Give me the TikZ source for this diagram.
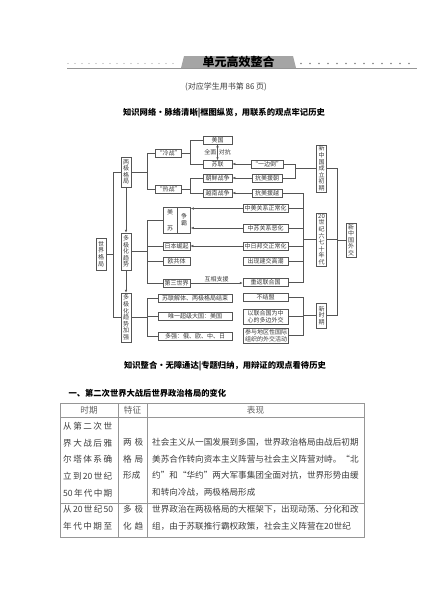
\documentclass[tikz,border=0pt]{standalone}
\usepackage{fontspec}
\setmainfont{Noto Sans CJK SC}
\usetikzlibrary{arrows.meta, positioning, calc}
\definecolor{framegray}{RGB}{85,85,85}
\definecolor{textgray}{RGB}{60,60,60}
\definecolor{bandgray}{RGB}{165,165,165}
\definecolor{rulegray}{RGB}{150,150,150}
\newcommand{\spreadto}[2]{\makebox[#1][s]{#2}}
\tikzset{
  block/.style={rectangle, draw=framegray, line width=0.5pt, fill=white,
                text=textgray, font=\fontsize{6}{7}\selectfont, inner sep=1pt,
                minimum height=8pt, align=center},
  vblock/.style={block, font=\fontsize{6}{6.6}\selectfont, text width=7pt,
                 inner xsep=1.5pt},
  sblock/.style={block, minimum width=29pt},
  wblock/.style={block, minimum width=45pt},
  link/.style={draw=framegray, line width=0.5pt},
  arrow/.style={link, -{Latex[length=3pt, width=2.4pt]}},
  twoway/.style={link, {Latex[length=3pt, width=2.4pt]}-{Latex[length=3pt, width=2.4pt]}},
  tag/.style={font=\fontsize{6}{7}\selectfont, text=textgray, inner sep=1pt},
  heading/.style={font=\fontsize{8.3}{10}\selectfont\bfseries, text=black},
  cell/.style={font=\fontsize{8.6}{16.75}\selectfont, text=textgray, inner sep=0pt,
               anchor=north west, align=left},
  headcell/.style={font=\fontsize{8.6}{10}\selectfont, text=textgray!80, inner sep=0pt},
}

\begin{document}
\begin{tikzpicture}[x=1pt, y=-1pt]
  \useasboundingbox (0,0) rectangle (424,600);

  \fill[bandgray] (181,68) -- (184,56) -- (293,56) -- (296,68) -- cycle;
  \node[font=\fontsize{12}{14}\selectfont\bfseries] (unit) at (238.5,62) {单元高效整合};
  \draw[rulegray, line width=1pt] (67,68.5) -- (417,68.5);
  \draw[gray!70, line width=1.3pt, line cap=round, dash pattern=on 0pt off 7pt] (68,63.5) -- (178,63.5);
  \draw[gray, line width=1.6pt, line cap=round, dash pattern=on 0pt off 9pt] (301,63.5) -- (417,63.5);
  \node[font=\fontsize{8}{10}\selectfont, text=textgray] (pageref) at (226,87) {(对应学生用书第 86 页)};
  \node[heading] (nettitle) at (224,113) {知识网络·脉络清晰|框图纵览，用联系的观点牢记历史};

  \node[vblock, minimum height=32pt] (world) at (101,254) {世\\界\\格\\局};
  \node[vblock, minimum height=30pt] (bipolar) at (126,172) {两\\极\\格\\局};
  \node[vblock, minimum height=37pt] (multi) at (126,251.5) {多\\极\\化\\趋\\势};
  \node[vblock, minimum height=49pt] (multiplus) at (126,317.5) {多\\极\\化\\趋\\势\\加\\强};

  \node[block, minimum width=21pt] (cold) at (168.5,153) {“冷战”};
  \node[block, minimum width=21pt] (hot) at (168.5,189.5) {“热战”};
  \node[sblock] (usa) at (217.5,140) {美国};
  \node[sblock] (ussr) at (217.5,164.5) {苏联};
  \node[sblock] (korea) at (217.5,178) {朝鲜战争};
  \node[sblock] (vietnam) at (217.5,193) {越南战争};
  \node[sblock, minimum width=30pt] (lean) at (267,164) {“一边倒”};
  \node[sblock, minimum width=30pt] (aidkorea) at (267,178) {抗美援朝};
  \node[sblock, minimum width=30pt] (aidviet) at (267,193) {抗美援越};

  \node[block, minimum width=14pt, minimum height=26pt] (usbox) at (170,220) {美\\[9pt]苏};
  \node[block, minimum width=13pt, minimum height=26pt, right=0pt of usbox] (hegemony) {争\\霸};
  \node[block, minimum width=27pt] (japan) at (176.5,246) {日本崛起};
  \node[block, minimum width=27pt] (ec) at (176.5,261) {欧共体};
  \node[block, minimum width=27pt] (third) at (176.5,283) {第三世界};
  \node[wblock] (sinous) at (265.5,208.5) {中美关系正常化};
  \node[wblock] (sinosov) at (265.5,228) {中苏关系恶化};
  \node[wblock] (sinojp) at (265.5,246) {中日邦交正常化};
  \node[wblock] (wave) at (265.5,261) {出现建交高潮};
  \node[wblock] (un) at (265.5,282.5) {重返联合国};

  \node[block, minimum width=74pt] (soviet) at (195,298) {苏联解体、两极格局结束};
  \node[block, minimum width=74pt] (superpower) at (195,316) {唯一超级大国：美国};
  \node[block, minimum width=74pt] (powers) at (195,336) {多强：俄、欧、中、日};
  \node[wblock] (nonalign) at (265.5,297.5) {不结盟};
  \node[wblock] (multilat) at (265.5,316.5) {以联合国为中\\心的多边外交};
  \node[wblock] (regional) at (266,335.5) {参与地区性国际\\组织的外交活动};

  \node[vblock, minimum height=47pt] (early) at (321.5,168.5) {新\\中\\国\\成\\立\\初\\期};
  \node[vblock, minimum height=53pt] (sixties) at (321.5,239.5) {20\\世\\纪\\六\\七\\十\\年\\代};
  \node[vblock, minimum height=25pt] (newera) at (321.5,315.5) {新\\时\\期};
  \node[vblock, minimum height=31pt] (diplomacy) at (351,240) {新\\中\\国\\外\\交};

  \coordinate (lb) at (113,0);
  \coordinate (b1) at (147,0);
  \coordinate (b2) at (190,0);
  \coordinate (b3) at (295,0);
  \coordinate (b4) at (303,0);
  \coordinate (b5) at (337,0);

  \draw[link] (bipolar.west) -- (bipolar.west -| lb) |- (multiplus.west);
  \draw[link] (world.east) -- (world.east -| lb);
  \draw[arrow] (bipolar) -- (multi);
  \draw[arrow] (multi) -- (multiplus);

  \draw[link] (cold.west) -- (cold.west -| b1) |- (hot.west);
  \draw[link] (bipolar.east) -- (bipolar.east -| b1);
  \draw[link] (usa.west) -- (usa.west -| b2) |- (ussr.west);
  \draw[link] (cold.east) -- (cold.east -| b2);
  \draw[link] (korea.west) -- (korea.west -| b2) |- (vietnam.west);
  \draw[link] (hot.east) -- (hot.east -| b2);
  \draw[twoway] (usa) -- node[tag, left] {全面} node[tag, right] {对抗} (ussr);
  \draw[arrow] (lean.west) -- (lean.west -| ussr.east);
  \draw[arrow] (aidkorea.west) -- (aidkorea.west -| korea.east);
  \draw[arrow] (aidviet.west) -- (aidviet.west -| vietnam.east);
  \draw[link] (lean.east) -- (lean.east -| b3) |- (aidkorea.east);
  \draw[link] (early.west) -- (early.west -| b3);

  \draw[link] (usbox.west) -- (usbox.west -| b1) |- (third.west);
  \draw[link] (multi.east) -- (multi.east -| b1);
  \foreach \n in {japan, ec}
    \draw[link] (\n.west) -- (\n.west -| b1);
  \draw[arrow] (sinous.west) -- (sinous.west -| hegemony.east);
  \draw[arrow] (sinosov.west) -- (sinosov.west -| hegemony.east);
  \draw[arrow] (sinojp.west) -- (sinojp.west -| japan.east);
  \draw[arrow] (third.east) -- node[tag, above] {互相支援} (third.east -| un.west);
  \draw[link] (aidviet.east) -- (aidviet.east -| b4) |- (un.east);
  \foreach \n in {sinous, sinosov, sinojp, wave}
    \draw[link] (\n.east) -- (\n.east -| b4);
  \draw[link] (sixties.west) -- (sixties.west -| b4);

  \draw[link] (soviet.west) -- (soviet.west -| b1) |- (powers.west);
  \draw[link] (multiplus.east) -- (multiplus.east -| b1);
  \draw[link] (superpower.west) -- (superpower.west -| b1);
  \draw[link] (nonalign.east) -- (nonalign.east -| b4) |- (regional.east);
  \draw[link] (multilat.east) -- (multilat.east -| b4);
  \draw[link] (newera.west) -- (newera.west -| b4);

  \draw[link] (early.east) -- (early.east -| b5) |- (newera.east);
  \draw[link] (sixties.east) -- (sixties.east -| b5);
  \draw[link] (diplomacy.west) -- (diplomacy.west -| b5);

  \node[heading] (sumtitle) at (225,366) {知识整合·无障通达|专题归纳，用辩证的观点看待历史};
  \node[heading, anchor=west] (section) at (65,393) {一、第二次世界大战后世界政治格局的变化};

  \draw[rulegray, line width=1pt] (60,403) rectangle (364,537);
  \draw[rulegray, line width=0.6pt] (60,417) -- (364,417) (60,503) -- (364,503)
    (118,403) -- (118,537) (147,403) -- (147,537);
  \node[headcell] (hperiod) at (89,410) {时期};
  \node[headcell] (hfeature) at (132.5,410) {特征};
  \node[headcell] (hshow) at (255.5,410) {表现};

  \node[cell] (period1) at (63,422) {\spreadto{49pt}{从 第 二 次 世}\\\spreadto{49pt}{界 大 战 后 雅}\\
    \spreadto{49pt}{尔 塔 体 系 确}\\\spreadto{49pt}{立 到 20 世 纪}\\\spreadto{49pt}{50 年 代 中 期}};
  \node[cell] (feature1) at (123,438) {\spreadto{20pt}{两 极}\\\spreadto{20pt}{格 局}\\形成};
  \node[cell] (show1) at (152,438) {社会主义从一国发展到多国，世界政治格局由战后初期\\
    美苏合作转向资本主义阵营与社会主义阵营对峙。“北\\
    约”和“华约”两大军事集团全面对抗，世界形势由缓\\
    和转向冷战，两极格局形成};
  \node[cell] (period2) at (63,505) {\spreadto{49pt}{从 20 世 纪 50}\\\spreadto{49pt}{年 代 中 期 至}};
  \node[cell] (feature2) at (123,505) {\spreadto{20pt}{多 极}\\\spreadto{20pt}{化 趋}};
  \node[cell] (show2) at (152,505) {世界政治在两极格局的大框架下，出现动荡、分化和改\\
    组，由于苏联推行霸权政策，社会主义阵营在20世纪};
\end{tikzpicture}
\end{document}
